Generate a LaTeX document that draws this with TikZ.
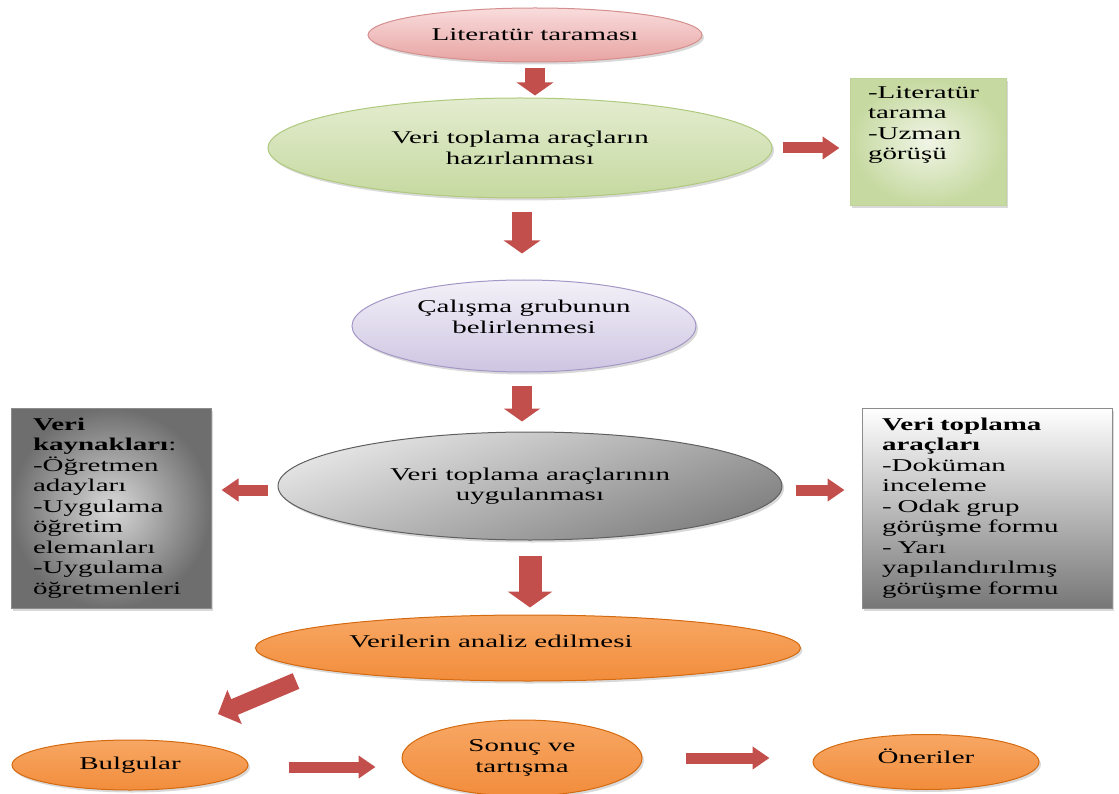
\documentclass[tikz,border=0pt]{standalone}
\usepackage{fontspec}
\setmainfont[FakeStretch=1.61]{Liberation Serif}
\usetikzlibrary{shapes.geometric, arrows.meta, shadows}
\definecolor{arrowred}{HTML}{C24F4C}
\definecolor{pinkT}{HTML}{F9DCDC}\definecolor{pinkB}{HTML}{E7A3A2}\definecolor{pinkD}{HTML}{D48F8E}
\definecolor{greenT}{HTML}{E3ECCF}\definecolor{greenM}{HTML}{F0F5E6}\definecolor{greenB}{HTML}{C6D9A0}\definecolor{greenD}{HTML}{AFC97E}
\definecolor{lavT}{HTML}{F3F0F8}\definecolor{lavB}{HTML}{CEC5E2}\definecolor{lavD}{HTML}{A497C6}
\definecolor{grayT}{HTML}{E6E6E6}\definecolor{grayB}{HTML}{7F7F7F}\definecolor{grayD}{HTML}{5F5F5F}
\definecolor{orT}{HTML}{F7A764}\definecolor{orM}{HTML}{FBC89B}\definecolor{orB}{HTML}{F28D3C}\definecolor{orD}{HTML}{D46A10}
\definecolor{boxD}{HTML}{8C8C8C}
\definecolor{kayIn}{HTML}{D9D9D9}\definecolor{kayOut}{HTML}{6E6E6E}
\tikzset{
  shad/.style={drop shadow={opacity=0.3, shadow xshift=2pt, shadow yshift=-2.5pt}},
  ell/.style={ellipse, inner sep=0pt, align=center, line width=1pt, shad},
  pinkell/.style={ell, draw=pinkD, top color=pinkT, bottom color=pinkB},
  greenell/.style={ell, draw=greenD, top color=greenT, middle color=greenM, bottom color=greenB},
  lavell/.style={ell, draw=lavD, top color=lavT, bottom color=lavB},
  grayell/.style={ell, draw=grayD, top color=grayT, bottom color=grayB, shading angle=20},
  orell/.style={ell, draw=orD, top color=orT, middle color=orM, bottom color=orB},
  infobox/.style={rectangle, draw=boxD, line width=1pt, align=left, inner ysep=0pt, shad},
  varrow/.style={draw=arrowred, line width=20pt, -{Triangle[length=13pt, width=36pt]}},
  bigvarrow/.style={draw=arrowred, line width=23pt, -{Triangle[length=16pt, width=44pt]}},
  harrow/.style={draw=arrowred, line width=11pt, -{Triangle[length=17pt, width=22pt]}},
  darrow/.style={draw=arrowred, line width=17pt, -{Triangle[length=18pt, width=36pt]}},
}
\begin{document}
\begin{tikzpicture}[x=1pt, y=-1pt, every node/.append style={font=\fontsize{18pt}{20.5pt}\selectfont, text=black}]
\useasboundingbox (0,0) rectangle (1119,794);

% nodes
\node[pinkell, minimum width=334pt, minimum height=54pt] (lit) at (535,35) {Literatür taraması};
\node[greenell, minimum width=504pt, minimum height=100pt] (hz) at (520,148) {Veri toplama araçların\\hazırlanması};
\node[infobox, shading=radial, inner color=greenM, outer color=greenB, draw=greenD!80, inner xsep=18pt, inner ysep=8pt] (lt) at (928,142)
  {\parbox[c][111pt][t]{120pt}{\raggedright -Literatür\\tarama\\-Uzman\\görüşü}};
\node[lavell, minimum width=344pt, minimum height=92pt, text depth=18pt] (cal) at (524,326) {Çalışma grubunun\\belirlenmesi};
\node[grayell, minimum width=504pt, minimum height=108pt] (uyg) at (530,486) {Veri toplama araçlarının\\uygulanması};
\node[infobox, shading=radial, inner color=kayIn, outer color=kayOut, text width=156pt, inner xsep=22pt, minimum height=200pt] (kay) at (111,508)
  {\textbf{Veri}\\\textbf{kaynakları}:\\-Öğretmen\\adayları\\-Uygulama\\öğretim\\elemanları\\-Uygulama\\öğretmenleri};
\node[infobox, top color=white, bottom color=boxD!85!black, text width=210pt, inner xsep=20pt, minimum height=200pt] (ara) at (987,508)
  {\textbf{Veri toplama}\\\textbf{araçları}\\-Doküman\\inceleme\\- Odak grup\\görüşme formu\\- Yarı\\yapılandırılmış\\görüşme formu};
\node[orell, minimum width=545pt, minimum height=66pt, text depth=14pt] (ana) at (528,648) {Verilerin analiz edilmesi\hspace{74pt}};
\node[orell, minimum width=236pt, minimum height=50pt] (bul) at (130,765) {Bulgular};
\node[orell, minimum width=240pt, minimum height=76pt] (son) at (522,758) {Sonuç ve\\tartışma};
\node[orell, minimum width=226pt, minimum height=55pt, text depth=12pt] (one) at (926,762) {Öneriler};

\coordinate (dA) at (296,681);
\coordinate (dB) at (218,714);

% connectors
\draw[varrow, shorten <=6pt, shorten >=2pt] (lit.south) -- (lit.south |- hz.north);
\draw[harrow, shorten <=10pt, shorten >=10pt] (hz.east) -- (hz.east -| lt.west);
\draw[varrow, shorten <=14pt, shorten >=26pt] ([xshift=2pt]hz.south) -- ([xshift=2pt]hz.south |- cal.north);
\draw[varrow, shorten <=13pt, shorten >=10pt] ([xshift=-2pt]cal.south) -- ([xshift=-2pt]cal.south |- uyg.north);
\draw[harrow, shorten <=10pt, shorten >=10pt] ([yshift=-4pt]uyg.west) -- ([yshift=-4pt]uyg.west -| kay.east);
\draw[harrow, shorten <=13pt, shorten >=17pt] ([yshift=-4pt]uyg.east) -- ([yshift=-4pt]uyg.east -| ara.west);
\draw[bigvarrow, shorten <=15pt, shorten >=7pt] (uyg.south) -- (uyg.south |- ana.north);
\draw[darrow] (dA) -- (dB);
\draw[harrow, shorten <=40pt, shorten >=26pt] ([yshift=-2pt]bul.east) -- ([yshift=-2pt]bul.east -| son.west);
\draw[harrow, shorten <=43pt, shorten >=43pt] (son.east) -- (son.east -| one.west);
\end{tikzpicture}
\end{document}
